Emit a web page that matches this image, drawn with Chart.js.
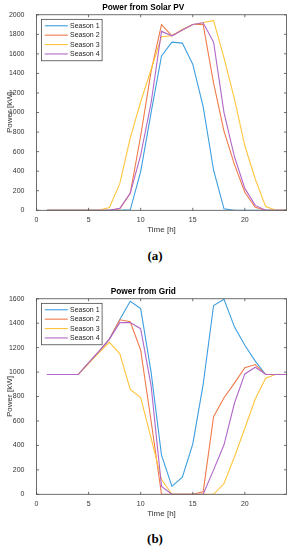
<!DOCTYPE html>
<html><head><meta charset="utf-8">
<script src="https://cdn.jsdelivr.net/npm/chart.js@4"></script>
<style>
html,body{margin:0;padding:0;background:#fff;width:291px;height:550px;overflow:hidden}
canvas{position:absolute;left:0}
#c1{top:0}
#c2{top:284px}
.cap{position:absolute;left:0;width:310px;text-align:center;font:bold 13px "Liberation Serif",serif;line-height:16px;color:#000}
</style></head><body>
<canvas id="c1" width="291" height="240"></canvas>
<canvas id="c2" width="291" height="240"></canvas>
<div class="cap" style="top:248px">(a)</div>
<div class="cap" style="top:531px">(b)</div>
<script>
const hours = [1,2,3,4,5,6,7,8,9,10,11,12,13,14,15,16,17,18,19,20,21,22,23,24];
const seriesNames = ['Season 1','Season 2','Season 3','Season 4'];
const seriesColors = ['#3d9ee0','#f07a4a','#ffc53d','#b168c8'];

// Power from Solar PV [kW]
const pvSeason1 = [0,0,0,0,0,0,0,0,5,395,1000,1578,1720,1710,1495,1060,410,15,0,0,0,0,0,0];
const pvSeason2 = [0,0,0,0,0,0,0,15,173,760,1420,1898,1785,1845,1900,1900,1300,810,470,185,30,0,0,0];
const pvSeason3 = [0,0,0,0,0,0,28,275,740,1110,1440,1775,1785,1850,1900,1920,1940,1560,1140,660,320,38,0,0];
const pvSeason4 = [0,0,0,0,0,0,0,20,175,565,1100,1830,1785,1845,1900,1918,1720,1000,550,224,50,0,0,0];

// Power from Grid [kW]
const gridSeason1 = [980,980,980,980,1075,1170,1270,1430,1580,1520,1000,320,65,140,410,900,1545,1595,1370,1220,1090,980,980,980];
const gridSeason2 = [980,980,980,980,1075,1170,1270,1428,1412,1180,600,0,0,0,0,20,635,790,910,1035,1062,980,980,980];
const gridSeason3 = [980,980,980,980,1070,1160,1243,1150,858,792,460,120,0,0,0,0,0,88,305,540,780,950,982,980];
const gridSeason4 = [980,980,980,980,1075,1170,1270,1405,1405,1355,890,65,0,0,0,0,200,405,745,985,1040,982,980,980];

const xTicksMax = 24, xStep = 5;
const pvMax = 2000, gridMax = 1600, yStep = 200;

const FONT = '"Liberation Sans", Arial, sans-serif';

const boxPlugin = {
  id: 'boxLegend',
  afterDatasetsDraw(chart) {
    const {ctx, chartArea: a, scales: {x, y}} = chart;
    ctx.save();
    ctx.strokeStyle = '#4a4a4a';
    ctx.lineWidth = 0.8;
    ctx.strokeRect(a.left, a.top, a.right - a.left, a.bottom - a.top);
    const L = 2.5;
    ctx.beginPath();
    x.ticks.forEach(t => {
      const px = x.getPixelForValue(t.value);
      ctx.moveTo(px, a.bottom); ctx.lineTo(px, a.bottom - L);
      ctx.moveTo(px, a.top); ctx.lineTo(px, a.top + L);
    });
    y.ticks.forEach(t => {
      const py = y.getPixelForValue(t.value);
      ctx.moveTo(a.left, py); ctx.lineTo(a.left + L, py);
      ctx.moveTo(a.right, py); ctx.lineTo(a.right - L, py);
    });
    ctx.stroke();
    // legend box
    const bx = a.left + 5, by = a.top + 4.6, bw = 60.6, bh = 41.4;
    ctx.fillStyle = '#fff';
    ctx.fillRect(bx, by, bw, bh);
    ctx.strokeStyle = '#4a4a4a';
    ctx.strokeRect(bx, by, bw, bh);
    ctx.font = '7px ' + FONT;
    ctx.textBaseline = 'middle';
    ctx.textAlign = 'left';
    chart.data.datasets.forEach((ds, i) => {
      const ry = a.top + 11 + i * 9.4;
      ctx.strokeStyle = ds.borderColor;
      ctx.lineWidth = 1.1;
      ctx.beginPath();
      ctx.moveTo(a.left + 8.3, ry); ctx.lineTo(a.left + 31.3, ry);
      ctx.stroke();
      ctx.fillStyle = '#222';
      ctx.fillText(ds.label, a.left + 33.5, ry + 0.3);
    });
    ctx.restore();
  }
};

function makeChart(id, title, seriesList, yMax) {
  const datasets = seriesList.map((vals, i) => ({
    label: seriesNames[i],
    data: hours.map((h, k) => ({x: h, y: vals[k]})),
    borderColor: seriesColors[i],
    backgroundColor: seriesColors[i],
    borderWidth: 1.1,
    pointRadius: 0,
    tension: 0,
    fill: false,
    order: seriesList.length - i
  }));
  return new Chart(document.getElementById(id), {
    type: 'line',
    data: {datasets},
    options: {
      responsive: false,
      animation: false,
      devicePixelRatio: 1,
      layout: {padding: {left: 0, right: 4.5, top: 0, bottom: 0}},
      plugins: {
        legend: {display: false},
        tooltip: {enabled: false},
        title: {
          display: true, text: title, color: '#000',
          font: {family: FONT, size: 8.3, weight: 'bold'},
          padding: {top: 2.4, bottom: 2.4}
        }
      },
      scales: {
        x: {
          type: 'linear', min: 0, max: xTicksMax,
          grid: {display: false},
          border: {display: false},
          ticks: {stepSize: xStep, includeBounds: false, color: '#333', font: {family: FONT, size: 7}, padding: -2.5, maxRotation: 0,
                  callback: v => String(v)},
          title: {display: true, text: 'Time [h]', color: '#333', font: {family: FONT, size: 8}, padding: {top: 0, bottom: 5.5}},
          afterFit(s) { s.height = 29.7; }
        },
        y: {
          type: 'linear', min: 0, max: yMax,
          grid: {display: false},
          border: {display: false},
          ticks: {stepSize: yStep, color: '#333', font: {family: FONT, size: 7}, padding: 4,
                  callback: v => String(v)},
          title: {display: true, text: 'Power [kW]', color: '#333', font: {family: FONT, size: 8}, padding: {top: 4.5, bottom: 0}},
          afterFit(s) { s.width = 36.5; }
        }
      }
    },
    plugins: [boxPlugin]
  });
}

makeChart('c1', 'Power from Solar PV', [pvSeason1, pvSeason2, pvSeason3, pvSeason4], pvMax);
makeChart('c2', 'Power from Grid', [gridSeason1, gridSeason2, gridSeason3, gridSeason4], gridMax);
</script>
</body></html>
